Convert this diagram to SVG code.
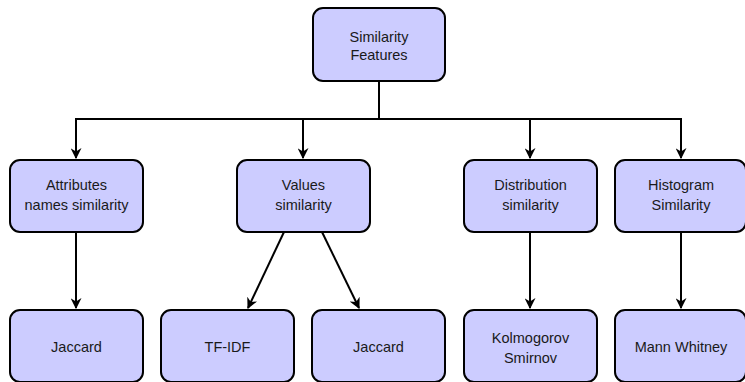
<svg xmlns="http://www.w3.org/2000/svg" width="745" height="382" viewBox="0 0 745 382">
  <style>
    .box { fill: #ccccff; stroke: #000; stroke-width: 2; }
    .lbl { font-family: "Liberation Sans", Arial, sans-serif; font-size: 14.5px; fill: #1a1a1a; text-anchor: middle; }
    .edge { fill: none; stroke: #000; stroke-width: 2; }
  </style>
  <defs>
    <marker id="arrow" viewBox="0 0 10 10" refX="9" refY="5" markerWidth="5.5" markerHeight="5.5" orient="auto" markerUnits="strokeWidth">
      <path d="M0,0 L10,5 L0,10 L3,5 Z" fill="#000"/>
    </marker>
  </defs>

  <g id="connectors">
    <path class="edge" d="M379,81 V119"/>
    <path class="edge" d="M75,119 H682"/>
    <path class="edge" d="M76,119 V158" marker-end="url(#arrow)"/>
    <path class="edge" d="M303,119 V158" marker-end="url(#arrow)"/>
    <path class="edge" d="M530,119 V158" marker-end="url(#arrow)"/>
    <path class="edge" d="M681,119 V158" marker-end="url(#arrow)"/>
    <path class="edge" d="M76,232 V308" marker-end="url(#arrow)"/>
    <path class="edge" d="M284,232 L248,308" marker-end="url(#arrow)"/>
    <path class="edge" d="M322,232 L359,308" marker-end="url(#arrow)"/>
    <path class="edge" d="M530,232 V308" marker-end="url(#arrow)"/>
    <path class="edge" d="M681,232 V308" marker-end="url(#arrow)"/>
  </g>

  <g id="similarity-features">
    <rect class="box" x="313" y="8" width="132" height="73" rx="10"/>
    <text class="lbl" x="379" y="42">Similarity</text>
    <text class="lbl" x="379" y="60">Features</text>
  </g>

  <g id="attributes-names">
    <rect class="box" x="10" y="160" width="133" height="72" rx="10"/>
    <text class="lbl" x="76.5" y="190">Attributes</text>
    <text class="lbl" x="76.5" y="210">names similarity</text>
  </g>
  <g id="values-similarity">
    <rect class="box" x="237" y="160" width="133" height="72" rx="10"/>
    <text class="lbl" x="303.5" y="190">Values</text>
    <text class="lbl" x="303.5" y="210">similarity</text>
  </g>
  <g id="distribution-similarity">
    <rect class="box" x="464" y="160" width="133" height="72" rx="10"/>
    <text class="lbl" x="530.5" y="190">Distribution</text>
    <text class="lbl" x="530.5" y="210">similarity</text>
  </g>
  <g id="histogram-similarity">
    <rect class="box" x="615" y="160" width="131" height="72" rx="10"/>
    <text class="lbl" x="681" y="190">Histogram</text>
    <text class="lbl" x="681" y="210">Similarity</text>
  </g>

  <g id="jaccard-attributes">
    <rect class="box" x="10" y="310" width="133" height="72" rx="10"/>
    <text class="lbl" x="76.5" y="352">Jaccard</text>
  </g>
  <g id="tf-idf">
    <rect class="box" x="161" y="310" width="133" height="72" rx="10"/>
    <text class="lbl" x="227.5" y="352">TF-IDF</text>
  </g>
  <g id="jaccard-values">
    <rect class="box" x="312" y="310" width="133" height="72" rx="10"/>
    <text class="lbl" x="378.5" y="352">Jaccard</text>
  </g>
  <g id="kolmogorov-smirnov">
    <rect class="box" x="464" y="310" width="133" height="72" rx="10"/>
    <text class="lbl" x="530.5" y="343">Kolmogorov</text>
    <text class="lbl" x="530.5" y="363">Smirnov</text>
  </g>
  <g id="mann-whitney">
    <rect class="box" x="615" y="310" width="131" height="72" rx="10"/>
    <text class="lbl" x="681" y="352">Mann Whitney</text>
  </g>
</svg>
